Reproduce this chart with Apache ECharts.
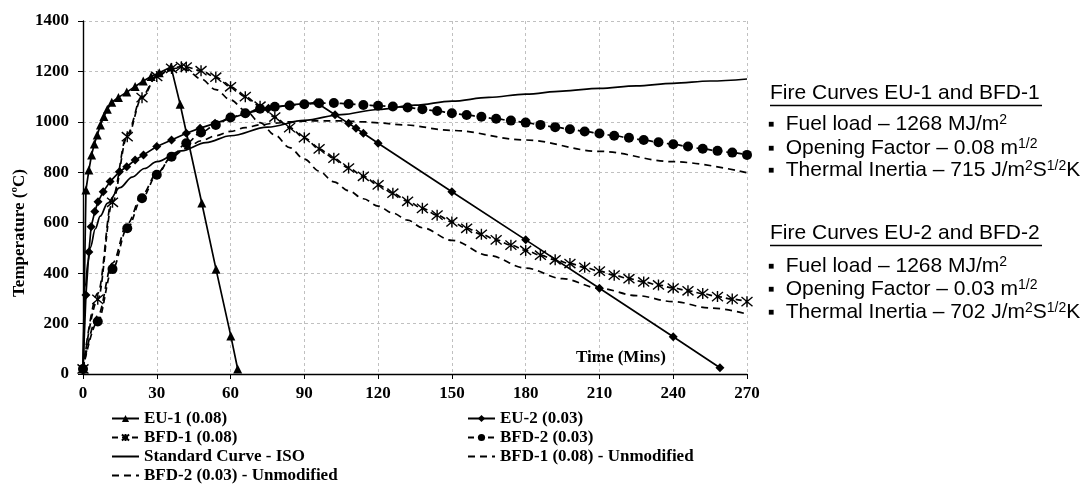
<!DOCTYPE html>
<html>
<head>
<meta charset="utf-8">
<script src="https://cdn.jsdelivr.net/npm/echarts@6/dist/echarts.min.js"></script>
<style>
  html, body { margin: 0; padding: 0; background: #fff; }
  #chart { width: 1088px; height: 484px; }
</style>
</head>
<body>
<div id="chart"></div>
<script>
// valori (tempo in minuti, temperatura in gradi C)
var xTicks = [0, 30, 60, 90, 120, 150, 180, 210, 240, 270];

var eu1Time = [0, 1.2, 2.4, 3.5, 4.6, 5.8, 7.1, 8.5, 9.9, 11.7, 14.4, 17.8, 21.2, 24.5, 27.7, 31, 35.8, 39.5, 48.3, 54.1, 60.1, 62.9];
var eu1Temp = [20, 730, 809, 869, 912, 948, 988, 1021, 1050, 1078, 1097, 1118, 1140, 1162, 1180, 1195, 1218, 1070, 678, 415, 151, 20];

var eu2Time = [0, 1.2, 2.4, 3.3, 4.8, 6.1, 8.2, 11, 14.8, 17.8, 21.2, 24.6, 30, 36, 42, 47.6, 53.7, 59.8, 66.6, 75.4, 84.2, 95, 102.5, 108, 111, 114, 120, 150, 180, 210, 240, 259];
var eu2Temp = [20, 313, 484, 584, 644, 683, 723, 763, 802, 822, 849, 869, 902, 928, 955, 975, 994, 1014, 1034, 1054, 1067, 1076, 1028, 994, 975, 955, 915, 723, 532, 340, 148, 25];

var bfd1Time = [0, 6, 12, 18, 24, 30, 36, 40, 42, 48, 54, 60, 66, 72, 78, 84, 90, 96, 102, 108, 114, 120, 126, 132, 138, 144, 150, 156, 162, 168, 174, 180, 186, 192, 198, 204, 210, 216, 222, 228, 234, 240, 246, 252, 258, 264, 270];
var bfd1Temp = [20, 296, 681, 941, 1096, 1180, 1212, 1219, 1217, 1203, 1177, 1139, 1100, 1062, 1019, 977, 937, 893, 856, 817, 784, 750, 717, 685, 657, 630, 603, 578, 554, 532, 511, 490, 471, 453, 438, 423, 408, 392, 378, 365, 353, 341, 330, 319, 307, 297, 287];

var bfd2Time = [0, 6, 12, 18, 24, 30, 36, 42, 48, 54, 60, 66, 72, 78, 84, 90, 96, 102, 108, 114, 120, 126, 132, 138, 144, 150, 156, 162, 168, 174, 180, 186, 192, 198, 204, 210, 216, 222, 228, 234, 240, 246, 252, 258, 264, 270];
var bfd2Temp = [20, 208, 416, 578, 697, 790, 862, 915, 958, 988, 1017, 1034, 1052, 1060, 1065, 1070, 1074, 1075, 1071, 1067, 1064, 1061, 1057, 1050, 1043, 1034, 1027, 1020, 1012, 1005, 997, 988, 979, 971, 962, 954, 945, 937, 928, 919, 911, 902, 893, 885, 878, 869];

var isoTime = [0, 1, 2, 3, 5, 7, 10, 15, 20, 25, 30, 40, 50, 60, 75, 90, 105, 120, 135, 150, 165, 180, 195, 210, 225, 240, 255, 270];
var isoTemp = [20, 349, 445, 502, 576, 626, 678, 739, 781, 815, 842, 885, 918, 945, 979, 1006, 1029, 1049, 1066, 1082, 1097, 1110, 1122, 1133, 1143, 1153, 1162, 1170];

var bfd1uTime = [0, 6, 12, 18, 24, 30, 36, 40, 42, 48, 54, 60, 66, 72, 78, 84, 90, 96, 102, 108, 114, 120, 126, 132, 138, 150, 165, 180, 195, 210, 225, 240, 255, 270];
var bfd1uTemp = [20, 320, 700, 952, 1102, 1182, 1211, 1214, 1206, 1170, 1128, 1087, 1045, 997, 948, 898, 852, 805, 762, 727, 695, 666, 638, 610, 580, 530, 470, 420, 378, 340, 311, 287, 262, 238];

var bfd2uTime = [0, 6, 12, 18, 24, 30, 36, 42, 48, 54, 60, 66, 72, 78, 84, 90, 96, 102, 108, 114, 120, 130, 150, 180, 210, 240, 270];
var bfd2uTemp = [20, 230, 440, 595, 710, 795, 860, 895, 925, 945, 962, 977, 988, 995, 1000, 1003, 1004, 1004, 1003, 1000, 996, 988, 966, 928, 883, 842, 798];

function pairs(t, v) {
    var out = [];
    for (var i = 0; i < t.length; i++) out.push([t[i], v[i]]);
    return out;
}

var serif = '"Liberation Serif", "Times New Roman", serif';
var sans = '"Liberation Sans", Arial, sans-serif';
var asterisk = 'path://M0,0 L10,10 M0,10 L10,0 M5,-1 L5,11';

function lineSeries(name, t, v, opts) {
    var s = {
        name: name,
        type: 'line',
        data: pairs(t, v),
        symbol: 'none',
        symbolSize: 9,
        showAllSymbol: true,
        smooth: opts.smooth ? 0.35 : false,
        smoothMonotone: 'x',
        lineStyle: { color: '#000', width: 1.7, type: opts.dash || 'solid' },
        itemStyle: { color: '#000' },
        emphasis: { disabled: true },
        animation: false,
        z: opts.z || 2
    };
    if (opts.symbol) s.symbol = opts.symbol;
    if (opts.size) s.symbolSize = opts.size;
    if (opts.hollow) s.itemStyle = { color: 'transparent', borderColor: '#000', borderWidth: 1.4 };
    return s;
}

var normalStyle = { fontSize: 21, fontFamily: sans, color: '#000', lineHeight: 24 };
var superStyle = { fontSize: 14, fontFamily: sans, color: '#000', lineHeight: 14, verticalAlign: 'top', padding: [1, 0, 0, 0] };
var bulletStyle = { fontSize: 10, fontFamily: sans, color: '#000', lineHeight: 24 };

function infoLine(y, text) {
    return {
        type: 'text', left: 768, top: y,
        style: {
            text: text, fontSize: 21, fontFamily: sans, fill: '#000',
            rich: { s: superStyle, b: bulletStyle, n: normalStyle }
        }
    };
}

// niente simbolo nella legenda per le curve senza marcatori
function plainItem(name) {
    return { name: name, itemStyle: { opacity: 0 } };
}

var legendText = { fontFamily: serif, fontWeight: 'bold', fontSize: 17, color: '#000', lineHeight: 17 };

var option = {
    backgroundColor: '#fff',
    animation: false,
    grid: { left: 83, right: 341, top: 21, bottom: 110 },
    xAxis: {
        type: 'value', min: 0, max: 270, interval: 30,
        axisLine: { lineStyle: { color: '#000', width: 1.4 } },
        axisTick: { show: true, length: 5, lineStyle: { color: '#000' } },
        axisLabel: { fontFamily: serif, fontWeight: 'bold', fontSize: 17, color: '#000', margin: 11,
            formatter: function(v) { return xTicks.indexOf(v) >= 0 ? String(v) : ''; } },
        splitLine: { show: true, lineStyle: { color: '#c0c0c0', type: [3, 3] } }
    },
    yAxis: {
        type: 'value', min: 0, max: 1400, interval: 200,
        axisLine: { show: true, lineStyle: { color: '#000', width: 1.4 } },
        axisTick: { show: true, length: 5, lineStyle: { color: '#000' } },
        axisLabel: { fontFamily: serif, fontWeight: 'bold', fontSize: 17, color: '#000', margin: 14,
            formatter: function(v) { return String(v); } },
        splitLine: { show: true, lineStyle: { color: '#c0c0c0', type: [3, 3] } }
    },
    legend: [{
        orient: 'vertical', left: 111, top: 410, padding: 0, itemWidth: 27, itemHeight: 9, itemGap: 2,
        textStyle: legendText,
        data: ['EU-1 (0.08)', 'BFD-1 (0.08)', plainItem('Standard Curve - ISO'), plainItem('BFD-2 (0.03) - Unmodified')]
    }, {
        orient: 'vertical', left: 467, top: 410, padding: 0, itemWidth: 27, itemHeight: 9, itemGap: 2,
        textStyle: legendText,
        data: ['EU-2 (0.03)', 'BFD-2 (0.03)', plainItem('BFD-1 (0.08) - Unmodified')]
    }],
    graphic: [
        { type: 'text', left: 576, top: 349,
          style: { text: 'Time (Mins)', fontFamily: serif, fontWeight: 'bold', fontSize: 17, fill: '#000' } },
        { type: 'text', x: 20, y: 233, rotation: Math.PI / 2,
          style: { text: 'Temperature (ºC)', fontFamily: serif, fontWeight: 'bold', fontSize: 17, fill: '#000',
                   align: 'center', verticalAlign: 'middle' } },
        { type: 'text', left: 770, top: 83,
          style: { text: 'Fire Curves EU-1 and BFD-1', fontSize: 21, fontFamily: sans, fill: '#000' } },
        { type: 'line', shape: { x1: 770, y1: 105.5, x2: 1042, y2: 105.5 }, style: { stroke: '#000', lineWidth: 1.3 } },
        infoLine(112.5, '{b|■}  {n|Fuel load – 1268 MJ/m}{s|2}'),
        infoLine(136, '{b|■}  {n|Opening Factor – 0.08 m}{s|1/2}'),
        infoLine(158.5, '{b|■}  {n|Thermal Inertia – 715 J/m}{s|2}{n|S}{s|1/2}{n|K}'),
        { type: 'text', left: 770, top: 222.5,
          style: { text: 'Fire Curves EU-2 and BFD-2', fontSize: 21, fontFamily: sans, fill: '#000' } },
        { type: 'line', shape: { x1: 770, y1: 245.5, x2: 1042, y2: 245.5 }, style: { stroke: '#000', lineWidth: 1.3 } },
        infoLine(254, '{b|■}  {n|Fuel load – 1268 MJ/m}{s|2}'),
        infoLine(277.5, '{b|■}  {n|Opening Factor – 0.03 m}{s|1/2}'),
        infoLine(300.5, '{b|■}  {n|Thermal Inertia – 702 J/m}{s|2}{n|S}{s|1/2}{n|K}')
    ],
    series: [
        lineSeries('EU-1 (0.08)', eu1Time, eu1Temp, { symbol: 'triangle', size: 9, z: 5 }),
        lineSeries('EU-2 (0.03)', eu2Time, eu2Temp, { symbol: 'diamond', size: 9, z: 5 }),
        lineSeries('BFD-1 (0.08)', bfd1Time, bfd1Temp, { symbol: asterisk, size: 11, hollow: true, dash: [6, 4], smooth: true, z: 4 }),
        lineSeries('BFD-2 (0.03)', bfd2Time, bfd2Temp, { symbol: 'circle', size: 10, dash: [6, 4], smooth: true, z: 4 }),
        lineSeries('Standard Curve - ISO', isoTime, isoTemp, { smooth: true }),
        lineSeries('BFD-1 (0.08) - Unmodified', bfd1uTime, bfd1uTemp, { dash: [7, 5], smooth: true }),
        lineSeries('BFD-2 (0.03) - Unmodified', bfd2uTime, bfd2uTemp, { dash: [7, 5], smooth: true })
    ]
};

var myChart = echarts.init(document.getElementById('chart'));
myChart.setOption(option);
</script>
</body>
</html>
